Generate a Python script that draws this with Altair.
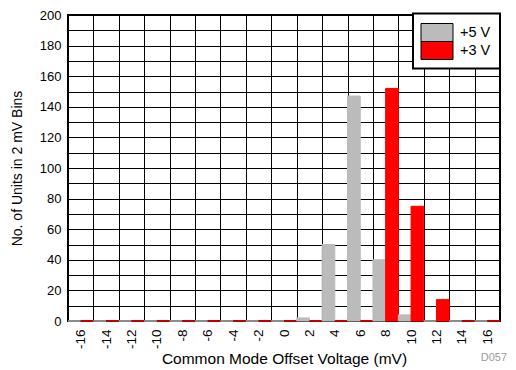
import altair as alt
import pandas as pd

categories = [-16, -14, -12, -10, -8, -6, -4, -2, 0, 2, 4, 6, 8, 10, 12, 14, 16]
series = ["+5 V", "+3 V"]
values_5v = [0, 0, 0, 0, 0, 0, 0, 0, 0, 2, 50, 147, 40, 4, 0, 0, 0]
values_3v = [0, 0, 0, 0, 0, 0, 0, 0, 0, 0, 0, 0, 152, 75, 14, 0, 0]
colors = ["#bbbbbb", "#ff0000"]
y_ticks = list(range(0, 201, 10))

rows = []
for c, a, b in zip(categories, values_5v, values_3v):
    rows.append({"v": str(c), "n": a, "s": series[0]})
    rows.append({"v": str(c), "n": b, "s": series[1]})
df = pd.DataFrame(rows)
cat_str = [str(c) for c in categories]

FONT = "Liberation Sans"
color_scale = alt.Scale(domain=series, range=colors)

bars = alt.Chart(df).mark_bar(strokeWidth=1).encode(
    x=alt.X(
        "v:O",
        sort=cat_str,
        scale=alt.Scale(paddingInner=0, paddingOuter=0),
        axis=alt.Axis(
            title="Common Mode Offset Voltage (mV)",
            tickBand="extent",
            labelAngle=270,
            labelAlign="right",
            labelBaseline="middle",
            labelPadding=8,
            ticks=False,
            domain=False,
            grid=True,
            gridColor="black",
            gridOpacity=1,
            gridWidth=1,
            labelFont=FONT,
            labelFontSize=13.5,
            labelColor="black",
            titleFont=FONT,
            titleFontSize=15.5,
            titleFontWeight="normal",
            titleColor="black",
            titlePadding=3,
        ),
    ),
    xOffset=alt.XOffset("s:N", sort=series, scale=alt.Scale(paddingInner=0, paddingOuter=0)),
    y=alt.Y(
        "n:Q",
        scale=alt.Scale(domain=[0, 200], nice=False),
        axis=alt.Axis(
            title="No. of Units in 2 mV Bins",
            values=y_ticks,
            labelExpr="datum.value % 20 === 0 ? datum.label : ''",
            ticks=False,
            domain=False,
            grid=True,
            gridColor="black",
            gridOpacity=1,
            gridWidth=1,
            labelPadding=7,
            labelFont=FONT,
            labelFontSize=13,
            labelColor="black",
            titleFont=FONT,
            titleFontSize=14,
            titleFontWeight="normal",
            titleColor="black",
            titlePadding=15,
        ),
    ),
    color=alt.Color("s:N", sort=series, scale=color_scale, legend=None),
    stroke=alt.Stroke("s:N", sort=series, scale=color_scale, legend=None),
)

# manual legend (box, swatches, labels)
legend_box = alt.Chart(pd.DataFrame({"k": [0]})).mark_rect(
    fill="white", stroke="black", strokeWidth=2
).encode(x=alt.value(345), x2=alt.value(432), y=alt.value(-1.5), y2=alt.value(53.5))

legend_layers = [legend_box]
for i, (name, col) in enumerate(zip(series, colors)):
    sw = alt.Chart(pd.DataFrame({"s": [name]})).mark_rect(
        fill=col, stroke="black", strokeWidth=1
    ).encode(
        x=alt.value(353), x2=alt.value(385),
        y=alt.value(8.5 + 18 * i), y2=alt.value(26.5 + 18 * i),
    )
    tx = alt.Chart(pd.DataFrame({"s": [name]})).mark_text(
        align="left", baseline="middle", font=FONT, fontSize=14.5, color="black"
    ).encode(text="s:N", x=alt.value(392), y=alt.value(18 + 18 * i))
    legend_layers += [sw, tx]

note = alt.Chart(pd.DataFrame({"t": ["D057"]})).mark_text(
    align="right", baseline="middle", font=FONT, fontSize=11, color="#9a9a9a"
).encode(text="t:N", x=alt.value(439), y=alt.value(343))

chart = alt.layer(bars, *legend_layers, note).properties(
    width=432,
    height=306,
    autosize=alt.AutoSizeParams(type="none"),
    padding={"left": 60, "top": 7, "right": 8, "bottom": 50},
).configure_view(stroke="black", strokeWidth=2)

chart.save("out.html", embed_options={"renderer": "svg", "actions": False})
